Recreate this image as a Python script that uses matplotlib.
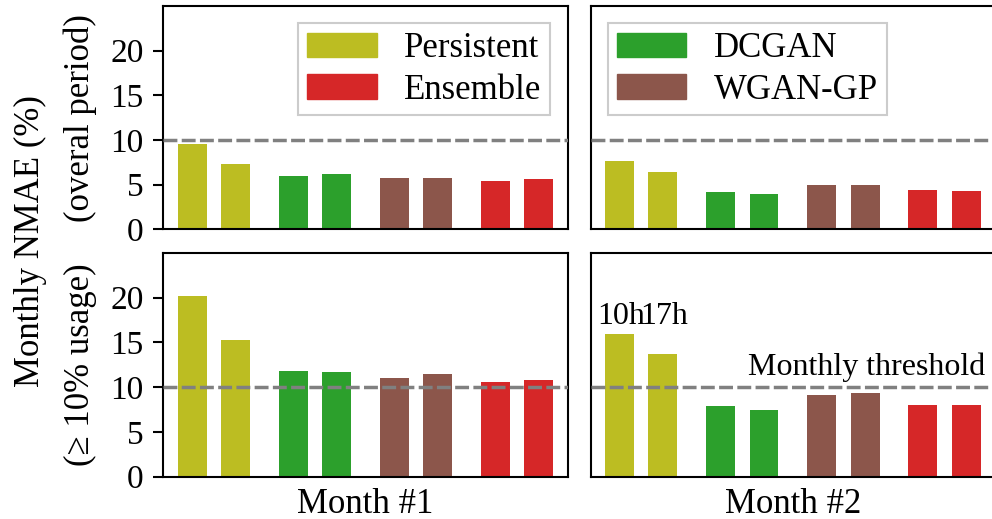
import matplotlib
matplotlib.use("Agg")
import matplotlib.pyplot as plt
import numpy as np
from matplotlib.patches import Patch

plt.rcParams['font.family'] = ['Liberation Serif', 'DejaVu Serif']

# Methods and their colours
methods = ["Persistent", "DCGAN", "WGAN-GP", "Ensemble"]
colors = ["#bcbd22", "#2ca02c", "#8c564b", "#d62728"]
hours = ["10h", "17h"]
months = ["Month #1", "Month #2"]

# Monthly NMAE (%) over the whole period: [method][hour]
overall_m1 = [[9.5, 7.35], [5.95, 6.15], [5.75, 5.75], [5.4, 5.6]]
overall_m2 = [[7.65, 6.4], [4.15, 3.9], [4.95, 4.95], [4.35, 4.25]]
# Monthly NMAE (%) restricted to hours with >= 10% usage
usage_m1 = [[20.15, 15.3], [11.75, 11.65], [11.05, 11.5], [10.6, 10.75]]
usage_m2 = [[15.9, 13.7], [7.85, 7.45], [9.1, 9.3], [8.05, 7.95]]

threshold = 10
row_labels = ["(overal period)", "(\u2265 10% usage)"]
yticks = [0, 5, 10, 15, 20]

fig = plt.figure(figsize=(9.92, 5.19), dpi=100)
W, H = 992, 519


def px_axes(x0, y0, x1, y1):
    return fig.add_axes([x0 / W, 1 - y1 / H, (x1 - x0) / W, (y1 - y0) / H])


axes = [[px_axes(163.3, 6, 567.7, 229.3), px_axes(590.7, 6, 995.1, 229.3)],
        [px_axes(163.3, 252.7, 567.7, 476.7), px_axes(590.7, 252.7, 995.1, 476.7)]]

data = [[overall_m1, overall_m2], [usage_m1, usage_m2]]

group_step = 7
bar_step = 3
bar_w = 2

for r in range(2):
    for c in range(2):
        ax = axes[r][c]
        vals = data[r][c]
        for i, (m, col) in enumerate(zip(methods, colors)):
            xs = group_step * i + bar_step * np.arange(len(hours))
            ax.bar(xs, vals[i], width=bar_w, color=col, zorder=2)
        ax.axhline(threshold, color="#808080", lw=2.5, dashes=(4, 1.25), zorder=3)
        ax.set_ylim(0, 25)
        ax.set_xlim(-2, 26)
        ax.set_xticks([])
        ax.set_yticks(yticks)
        for sp in ax.spines.values():
            sp.set_linewidth(1.5)
        ax.tick_params(axis='y', labelsize=24, length=7, width=1.5, pad=7)
        if c == 0:
            ax.set_ylabel(row_labels[r], fontsize=25)
            ax.yaxis.set_label_coords(-0.163, 0.5)
        else:
            ax.tick_params(axis='y', left=False, labelleft=False)
        if r == 1:
            ax.set_xlabel(months[c], fontsize=25, labelpad=8)

# Legends split across the top panels
h_left = [Patch(color=colors[0], label=methods[0]), Patch(color=colors[3], label=methods[3])]
h_right = [Patch(color=colors[1], label=methods[1]), Patch(color=colors[2], label=methods[2])]
for ax, hs, loc in [(axes[0][0], h_left, "upper right"), (axes[0][1], h_right, "upper left")]:
    leg = ax.legend(handles=hs, loc=loc, fontsize=25, fancybox=False, framealpha=1,
                    edgecolor="#cccccc", borderpad=0.25, labelspacing=0.25,
                    handletextpad=0.8)
    leg.get_frame().set_linewidth(1.5)

# Annotations on the usage panel of month 2
ax = axes[1][1]
for j, h in enumerate(hours):
    ax.text(bar_step * j + 0.1, 17.0, h, fontsize=23, ha='center', va='baseline')
ax.text(25.3, 11.4, "Monthly threshold", fontsize=23, ha='right', va='baseline')

fig.text(30 / W, 1 - 241 / H, "Monthly NMAE (%)", rotation=90, fontsize=25,
         ha='center', va='center')

fig.savefig("out.png", dpi=100)
